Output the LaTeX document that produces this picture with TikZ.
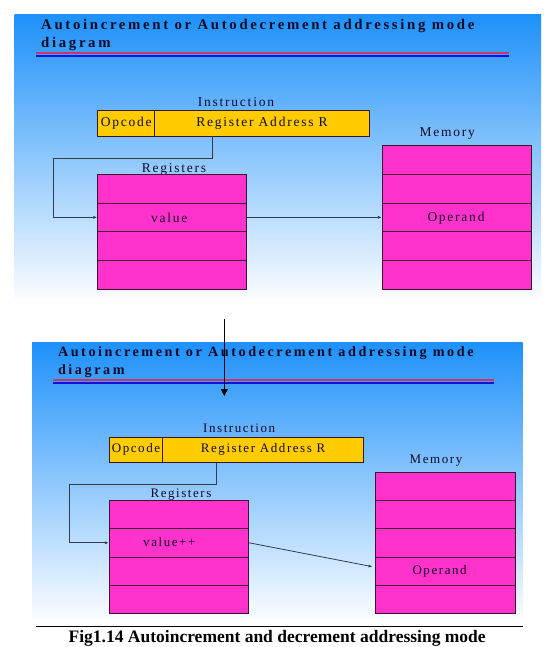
\documentclass[tikz,border=0pt]{standalone}
\usepackage{fontspec}
\setmainfont{Liberation Serif}
\newfontfamily\lspA[LetterSpace=13]{Liberation Serif}
\newfontfamily\lspB[LetterSpace=12]{Liberation Serif}
\newfontfamily\lspT[LetterSpace=18]{Liberation Serif}
\usetikzlibrary{arrows.meta}
\definecolor{mag}{RGB}{255,51,204}
\definecolor{yel}{RGB}{255,204,0}
\definecolor{bxline}{RGB}{60,20,50}
\definecolor{connc}{RGB}{50,60,80}
\definecolor{bgtop}{RGB}{30,145,250}
\definecolor{bgbot}{RGB}{250,252,255}
\definecolor{redln}{RGB}{204,51,102}
\definecolor{blueln}{RGB}{17,17,221}
\definecolor{txt}{RGB}{20,10,40}
\begin{document}
\begin{tikzpicture}[x=1pt,y=-1pt,
  cell/.style={draw=bxline,line width=0.8pt,fill=mag,inner sep=0pt},
  ybox/.style={draw=bxline,line width=0.8pt,fill=yel,inner sep=0pt,text=txt},
  regT/.style={cell,minimum width=149pt,minimum height=28.7pt},
  memT/.style={cell,minimum width=149.4pt,minimum height=28.66pt},
  regB/.style={cell,minimum width=139.4pt,minimum height=28.35pt},
  memB/.style={cell,minimum width=139.4pt,minimum height=28.28pt},
  lblT/.style={inner sep=0pt,text=txt,font=\lspA\fontsize{13.5}{16}\selectfont},
  lblB/.style={inner sep=0pt,text=txt,font=\lspB\fontsize{13}{15}\selectfont},
  ttlT/.style={inner sep=0pt,anchor=base west,text=txt,font=\lspT\bfseries\fontsize{14.8}{17}\selectfont},
  ttlB/.style={inner sep=0pt,anchor=base west,text=txt,font=\lspT\bfseries\fontsize{14.2}{16}\selectfont},
  conn/.style={draw=connc,line width=0.8pt},
  tip/.style={-{Latex[length=4pt,width=3pt]}}
]
\useasboundingbox (0,0) rectangle (549,647);

% ---------- top panel ----------
\shade[top color=bgtop,bottom color=bgbot] (14.7,15) rectangle (541,297);
\node[ttlT] (ttl1) at (41,30) {Autoincrement or Autodecrement addressing mode};
\node[ttlT] (ttl2) at (41,47.3) {diagram};
\draw[redln,line width=2pt] (36,53.3) -- (509,53.3);
\draw[blueln,line width=2pt] (36,56.3) -- (509,56.3);

\node[lblT] (instrT) at (236,102.3) {Instruction};
\node[ybox,lblT,minimum width=57pt,minimum height=25.3pt] (opT) at (126.2,123.35) {Opcode};
\node[ybox,lblT,minimum width=214.6pt,minimum height=25.3pt] (raT) at (262,123.35) {Register Address R};

\node[lblT] (regsT) at (174,169.3) {Registers};
\node[regT] (R1) at (172.2,188.65) {};
\node[regT] (R2) at (172.2,217.35) {};
\node[regT] (R3) at (172.2,246.05) {};
\node[regT] (R4) at (172.2,274.75) {};
\node[lblT] (valT) at (169.3,218) {value};

\node[lblT] (memlT) at (447.3,134) {Memory};
\node[memT] (M1) at (457,160.03) {};
\node[memT] (M2) at (457,188.7) {};
\node[memT] (M3) at (457,217.35) {};
\node[memT] (M4) at (457,246.0) {};
\node[memT] (M5) at (457,274.7) {};
\node[lblT] (opdT) at (456,218) {Operand};

\coordinate (t1) at (212,158.3);
\coordinate (t2) at (53.3,158.3);
\draw[conn,tip] (raT.south -| t1) -- (t1) -- (t2) |- (R2.west);
\draw[conn,tip] (R2.east) -- (M3.west);

% ---------- bottom panel ----------
\shade[top color=bgtop,bottom color=bgbot] (32.2,342.3) rectangle (522.6,618);
\node[ttlB] (ttl3) at (57.8,356.7) {Autoincrement or Autodecrement addressing mode};
\node[ttlB] (ttl4) at (57.8,374) {diagram};
\draw[redln,line width=2pt] (52.5,380) -- (494,380);
\draw[blueln,line width=2pt] (52.5,383.1) -- (494,383.1);

\node[lblB] (instrB) at (239.2,427.8) {Instruction};
\node[ybox,lblB,minimum width=53.4pt,minimum height=25pt] (opB) at (136,449.8) {Opcode};
\node[ybox,lblB,minimum width=200.9pt,minimum height=25pt] (raB) at (263.15,449.8) {Register Address R};

\node[lblB] (regsB) at (181,495) {Registers};
\node[regB] (S1) at (179,514.5) {};
\node[regB] (S2) at (179,542.8) {};
\node[regB] (S3) at (179,571.2) {};
\node[regB] (S4) at (179,599.5) {};
\node[lblB] (valB) at (169.3,542.5) {value++};

\node[lblB] (memlB) at (436,460.7) {Memory};
\node[memB] (N1) at (445.2,486.4) {};
\node[memB] (N2) at (445.2,514.7) {};
\node[memB] (N3) at (445.2,543.0) {};
\node[memB] (N4) at (445.2,571.3) {};
\node[memB] (N5) at (445.2,599.6) {};
\node[lblB] (opdB) at (439.6,571.3) {Operand};

\coordinate (t3) at (216,484.3);
\coordinate (t4) at (69,484.3);
\draw[conn,tip] (raB.south -| t3) -- (t3) -- (t4) |- (S2.west);
\draw[conn,tip] (S2.east) -- ([xshift=-2.5pt,yshift=4.6pt]N4.west);

% ---------- arrow between panels ----------
\coordinate (a1) at (224.3,319);
\coordinate (a2) at (224.3,396);
\draw[black,line width=0.9pt,-{Triangle[length=7pt,width=7pt]}] (a1) -- (a2);

% ---------- caption ----------
\draw[black,line width=1pt] (36,626.7) -- (523,626.7);
\node[inner sep=0pt,anchor=base,font=\bfseries\fontsize{17.5}{20}\selectfont] (cap) at (277.2,642.3) {Fig1.14 Autoincrement and decrement addressing mode};
\end{tikzpicture}
\end{document}
